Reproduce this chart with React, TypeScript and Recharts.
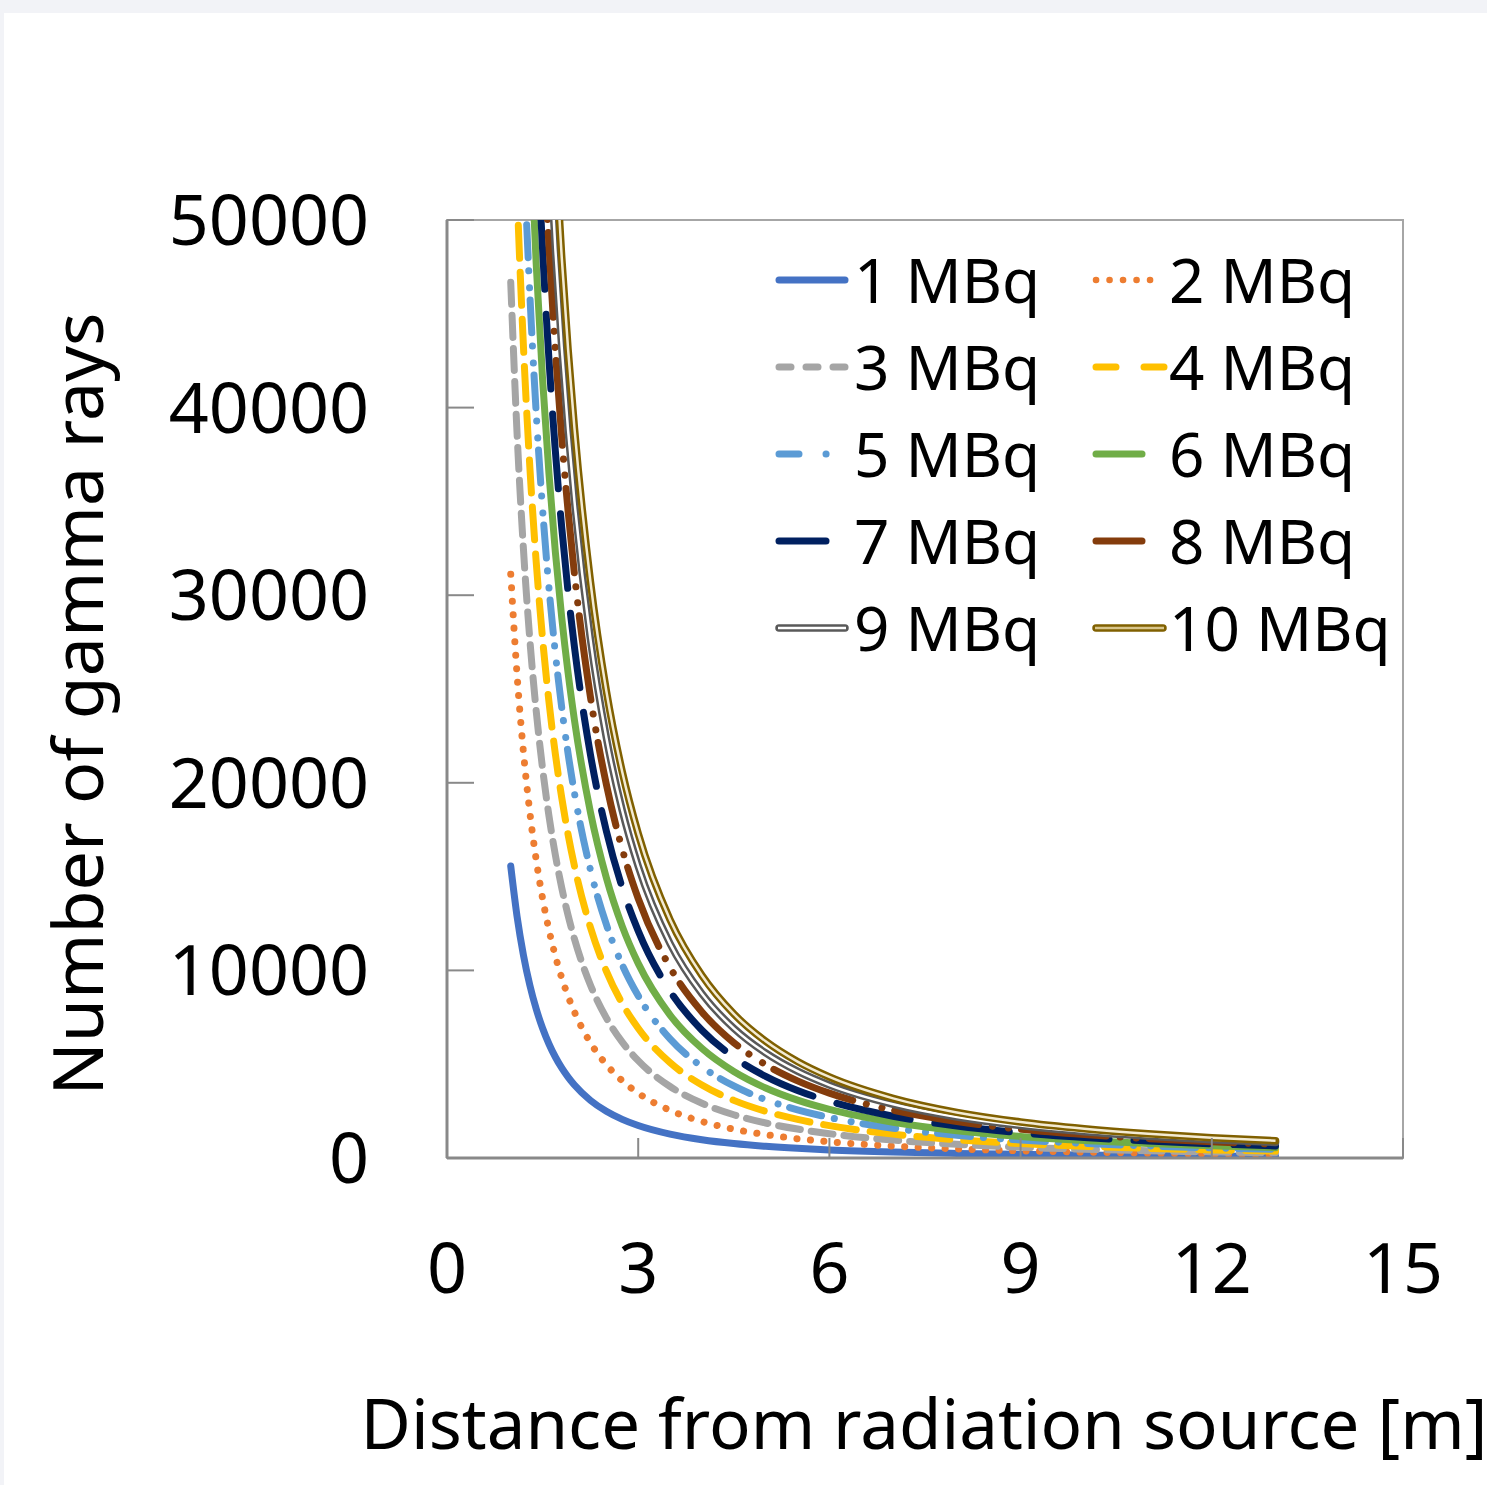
import React from "react";
import { LineChart, Line, XAxis, YAxis, Legend, ReferenceArea, Label } from "recharts";

// distance from source [m]
const distance = [1, 1.1, 1.2, 1.3, 1.4, 1.5, 1.6, 1.7, 1.8, 1.9, 2, 2.25, 2.5, 2.75, 3, 3.5, 4, 4.5, 5, 5.5, 6, 7, 8, 9, 10, 11, 12, 13];

// number of gamma rays per activity
const mbq1 = [15560, 12860, 10806, 9207, 7939, 6916, 6078, 5384, 4802, 4310, 3890, 3074, 2490, 2058, 1729, 1270, 973, 768, 622, 514, 432, 318, 243, 192, 156, 129, 108, 92];
const mbq2 = [31120, 25720, 21612, 18414, 15878, 13832, 12156, 10768, 9604, 8620, 7780, 6148, 4980, 4116, 3458, 2540, 1946, 1536, 1244, 1028, 864, 636, 486, 384, 312, 258, 216, 184];
const mbq3 = [46680, 38580, 32418, 27621, 23817, 20748, 18234, 16152, 14406, 12930, 11670, 9222, 7470, 6174, 5187, 3810, 2919, 2304, 1866, 1542, 1296, 954, 729, 576, 468, 387, 324, 276];
const mbq4 = [62240, 51440, 43224, 36828, 31756, 27664, 24312, 21536, 19208, 17240, 15560, 12296, 9960, 8232, 6916, 5080, 3892, 3072, 2488, 2056, 1728, 1272, 972, 768, 624, 516, 432, 368];
const mbq5 = [77800, 64300, 54030, 46035, 39695, 34580, 30390, 26920, 24010, 21550, 19450, 15370, 12450, 10290, 8645, 6350, 4865, 3840, 3110, 2570, 2160, 1590, 1215, 960, 780, 645, 540, 460];
const mbq6 = [93360, 77160, 64836, 55242, 47634, 41496, 36468, 32304, 28812, 25860, 23340, 18444, 14940, 12348, 10374, 7620, 5838, 4608, 3732, 3084, 2592, 1908, 1458, 1152, 936, 774, 648, 552];
const mbq7 = [108920, 90020, 75642, 64449, 55573, 48412, 42546, 37688, 33614, 30170, 27230, 21518, 17430, 14406, 12103, 8890, 6811, 5376, 4354, 3598, 3024, 2226, 1701, 1344, 1092, 903, 756, 644];
const mbq8 = [124480, 102880, 86448, 73656, 63512, 55328, 48624, 43072, 38416, 34480, 31120, 24592, 19920, 16464, 13832, 10160, 7784, 6144, 4976, 4112, 3456, 2544, 1944, 1536, 1248, 1032, 864, 736];
const mbq9 = [140040, 115740, 97254, 82863, 71451, 62244, 54702, 48456, 43218, 38790, 35010, 27666, 22410, 18522, 15561, 11430, 8757, 6912, 5598, 4626, 3888, 2862, 2187, 1728, 1404, 1161, 972, 828];
const mbq10 = [155600, 128600, 108060, 92070, 79390, 69160, 60780, 53840, 48020, 43100, 38900, 30740, 24900, 20580, 17290, 12700, 9730, 7680, 6220, 5140, 4320, 3180, 2430, 1920, 1560, 1290, 1080, 920];

const seriesNames = ["1 MBq", "2 MBq", "3 MBq", "4 MBq", "5 MBq", "6 MBq", "7 MBq", "8 MBq", "9 MBq", "10 MBq"];
const xTicks = [0, 3, 6, 9, 12, 15];
const yTicks = [0, 10000, 20000, 30000, 40000, 50000];

const data = distance.map((d, i) => ({
  d,
  s1: mbq1[i], s2: mbq2[i], s3: mbq3[i], s4: mbq4[i], s5: mbq5[i],
  s6: mbq6[i], s7: mbq7[i], s8: mbq8[i], s9: mbq9[i], s10: mbq10[i],
}));

const FONT = "'Noto Sans', 'Open Sans', sans-serif";
const AXIS = "#898989";

// line styles: [key, color, dasharray, width]
const styles: any[] = [
  ["s1", "#4472C4", undefined, 7],
  ["s2", "#ED7D31", "0.1 13.4", 7],
  ["s3", "#A5A5A5", "22 11", 7],
  ["s4", "#FFC000", "33 14", 7],
  ["s5", "#5B9BD5", "33 13 0.1 17 0.1 12", 7],
  ["s6", "#70AD47", undefined, 7],
  ["s7", "#002060", "75 25", 7],
  ["s8", "#843C0C", "85 14 0.1 16 0.1 13", 7],
];

const YTick = (props: any) => {
  const { x, y, payload } = props;
  return (
    <g>
      <line x1={x} x2={x + 27} y1={y} y2={y} stroke={AXIS} strokeWidth={2} />
      <text x={x - 78} y={y + 25} textAnchor="end" fontSize={70} fontFamily={FONT} fill="#000">
        {payload.value}
      </text>
    </g>
  );
};

const XTick = (props: any) => {
  const { x, y, payload } = props;
  return (
    <g>
      <line x1={x} x2={x} y1={y} y2={y - 20} stroke={AXIS} strokeWidth={2} />
      <text x={x} y={y + 135} textAnchor="middle" fontSize={70} fontFamily={FONT} fill="#000">
        {payload.value}
      </text>
    </g>
  );
};

const LegendBox = () => {
  const rowY = (i: number) => 50 + 87 * i;
  const txt = (x: number, i: number, s: string) => (
    <text x={x} y={rowY(i) + 23} fontSize={62} fontFamily={FONT} fill="#000">{s}</text>
  );
  const seg = (x0: number, x1: number, i: number, color: string, dash?: string, w = 7) => (
    <line x1={x0 + 3} x2={x1 - 3} y1={rowY(i)} y2={rowY(i)} stroke={color} strokeWidth={w}
      strokeLinecap="round" strokeDasharray={dash} />
  );
  const dbl = (x0: number, x1: number, i: number, outer: string, inner: string) => (
    <g>
      <line x1={x0 + 3} x2={x1 - 3} y1={rowY(i)} y2={rowY(i)} stroke={outer} strokeWidth={7.5} strokeLinecap="round" />
      <line x1={x0 + 2} x2={x1 - 2} y1={rowY(i)} y2={rowY(i)} stroke={inner} strokeWidth={2.5} />
    </g>
  );
  return (
    <svg width={640} height={450}>
      {seg(6, 78, 0, "#4472C4")}
      {txt(84, 0, seriesNames[0])}
      <line x1={326} x2={381} y1={rowY(0)} y2={rowY(0)} stroke="#ED7D31" strokeWidth={6.5} strokeLinecap="round" strokeDasharray="0.1 13.4" />
      {txt(399, 0, seriesNames[1])}
      {seg(6, 78, 1, "#A5A5A5", "12 15")}
      {txt(84, 1, seriesNames[2])}
      {seg(323, 397, 1, "#FFC000", "20 28")}
      {txt(399, 1, seriesNames[3])}
      <line x1={9} x2={57} y1={rowY(2)} y2={rowY(2)} stroke="#5B9BD5" strokeWidth={7} strokeLinecap="round" strokeDasharray="20 27 0.1 100" />
      {txt(84, 2, seriesNames[4])}
      {seg(323, 375, 2, "#70AD47")}
      {txt(399, 2, seriesNames[5])}
      {seg(6, 59, 3, "#002060")}
      {txt(84, 3, seriesNames[6])}
      {seg(323, 375, 3, "#843C0C")}
      {txt(399, 3, seriesNames[7])}
      {dbl(6, 78, 4, "#595959", "#ffffff")}
      {txt(84, 4, seriesNames[8])}
      {dbl(323, 396, 4, "#806000", "#D8C58C")}
      {txt(399, 4, seriesNames[9])}
    </svg>
  );
};

export default function App() {
  return (
    <div style={{ position: "relative", width: 1487, height: 1485, background: "#F2F3F7", overflow: "hidden" }}>
      <style>{"body{margin:0;}"}</style>
      <div style={{ position: "absolute", left: 4, top: 13, width: 1483, height: 1472, background: "#fff" }}>
        <LineChart width={1483} height={1472} data={data} margin={{ top: 207, right: 84, bottom: 0, left: 0 }}
          style={{ fontFamily: FONT, overflow: "visible" }}>
          <ReferenceArea x1={0} x2={15} y1={0} y2={50000} fill="none" stroke="#a6a6a6" strokeWidth={2} ifOverflow="visible" />
          <XAxis dataKey="d" type="number" domain={[0, 15]} ticks={xTicks} height={327} tickSize={0} tickMargin={0}
            tickLine={false} axisLine={{ stroke: AXIS, strokeWidth: 3 }} tick={<XTick />} allowDataOverflow interval={0}>
            <Label content={(p: any) => (
              <text x={p.viewBox.x + p.viewBox.width / 2 - 1} y={p.viewBox.y + 291} textAnchor="middle"
                fontSize={69} fontFamily={FONT} fill="#000">Distance from radiation source [m]</text>
            )} />
          </XAxis>
          <YAxis type="number" domain={[0, 50000]} ticks={yTicks} width={443} tickSize={0} tickMargin={0}
            tickLine={false} axisLine={{ stroke: AXIS, strokeWidth: 3 }} tick={<YTick />} allowDataOverflow interval={0}>
            <Label content={(p: any) => {
              const cx = p.viewBox.x + 99;
              const cy = p.viewBox.y + p.viewBox.height / 2 + 15;
              return (
                <text x={cx} y={cy} transform={`rotate(-90 ${cx} ${cy})`} textAnchor="middle"
                  fontSize={70} fontFamily={FONT} fill="#000">Number of gamma rays</text>
              );
            }} />
          </YAxis>
          <Legend layout="horizontal" verticalAlign="middle" align="center" content={<LegendBox />}
            wrapperStyle={{ top: 217, left: 766, width: 640, height: 450 }} />
          {styles.map(([key, color, dash, w]) => (
            <Line key={key} dataKey={key} type="monotone" stroke={color} strokeWidth={w} strokeDasharray={dash}
              strokeLinecap="round" strokeLinejoin="round" dot={false} activeDot={false}
              isAnimationActive={false} legendType="none" />
          ))}
          <Line dataKey="s9" type="monotone" stroke="#595959" strokeWidth={7.5} dot={false} activeDot={false}
            isAnimationActive={false} strokeLinecap="round" legendType="none" />
          <Line dataKey="s9" type="monotone" stroke="#ffffff" strokeWidth={2.5} dot={false} activeDot={false}
            isAnimationActive={false} legendType="none" />
          <Line dataKey="s10" type="monotone" stroke="#806000" strokeWidth={7.5} dot={false} activeDot={false}
            isAnimationActive={false} strokeLinecap="round" legendType="none" />
          <Line dataKey="s10" type="monotone" stroke="#F3EBD3" strokeWidth={2.5} dot={false} activeDot={false}
            isAnimationActive={false} legendType="none" />
        </LineChart>
      </div>
    </div>
  );
}
